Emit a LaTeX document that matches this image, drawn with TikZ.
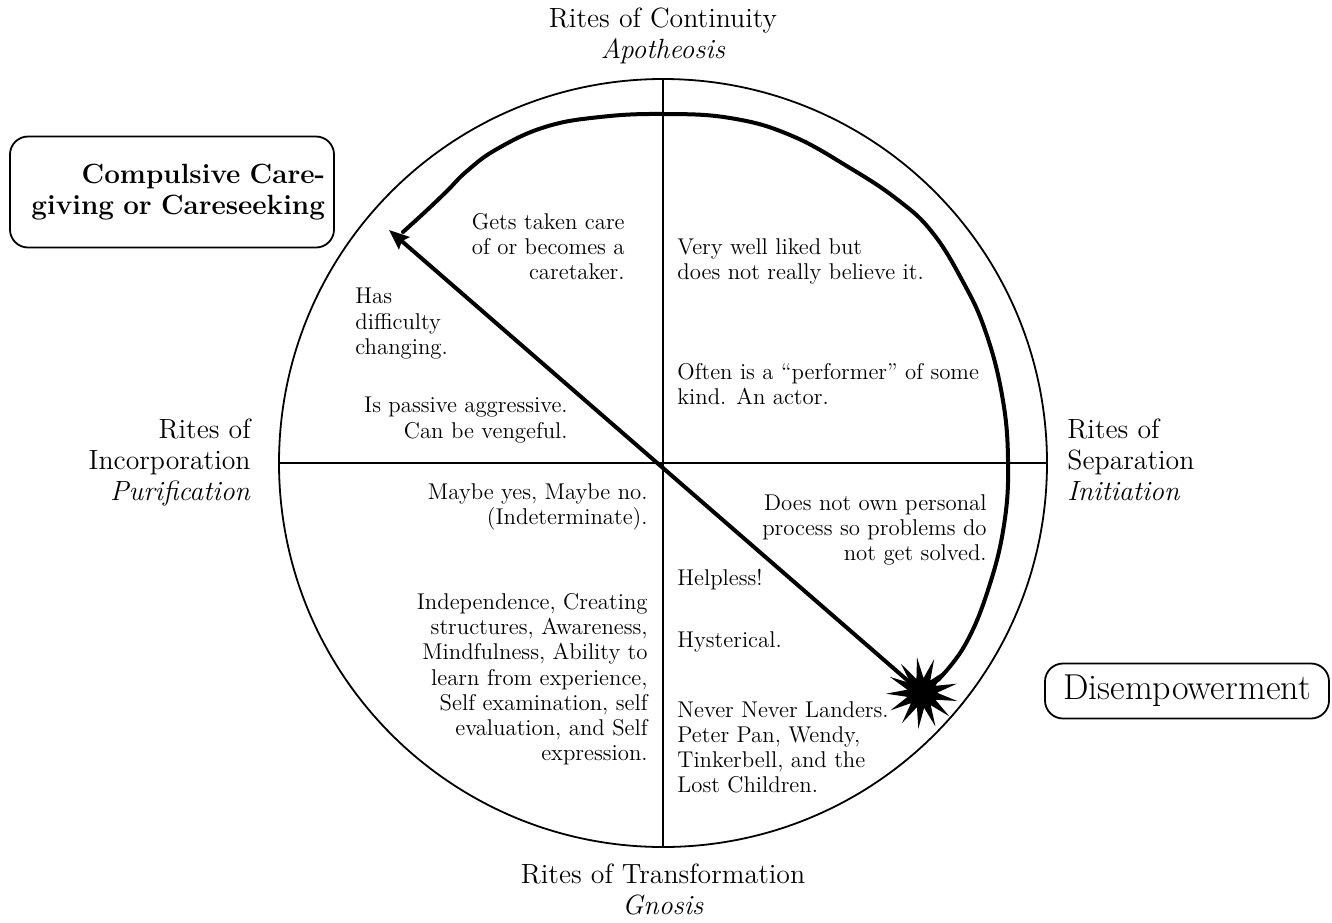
\documentclass[tikz,border=0pt]{standalone}
\usepackage{tikz}
\usetikzlibrary{arrows.meta,shapes.geometric}
\newcommand{\bodysize}{\fontsize{11.4}{12.6}\selectfont}
\newcommand{\ritesize}{\fontsize{13.9}{15.4}\selectfont}
\tikzset{
  rim/.style={line width=0.9pt},
  cross/.style={line width=0.8pt},
  cycleline/.style={line width=2pt, line cap=round, line join=round},
  note/.style={font=\bodysize, inner sep=0pt},
  rite/.style={font=\ritesize, inner sep=0pt},
  tagbox/.style={draw, line width=0.9pt, rounded corners=9pt},
}

\begin{document}
\begin{tikzpicture}[x=0.5pt,y=-0.5pt]
\useasboundingbox (0,0) rectangle (1332,922);
\coordinate (hub) at (663,463);
\draw[rim] (hub) circle[radius=384];
\draw[cross] (hub) ++(-384,0) -- ++(768,0);
\draw[cross] (hub) ++(0,-384) -- ++(0,768);

\node[rite, anchor=north, align=center] (continuity) at (663,8) {Rites of Continuity\\\textit{Apotheosis}};
\node[rite, anchor=north, align=center] (transformation) at (663,864) {Rites of Transformation\\\textit{Gnosis}};
\node[rite, anchor=north east, align=right] (incorporation) at (251,419) {Rites of\\Incorporation\\\textit{Purification}};
\node[rite, anchor=north west, align=left] (separation) at (1067,419) {Rites of\\Separation\\\textit{Initiation}};

\node[tagbox, font=\ritesize\bfseries, align=right, text width=153pt, inner xsep=4.5pt, minimum height=55.5pt] (caregiving) at (172,192) {Compulsive Care-\\giving or Careseeking};
\node[tagbox, font=\fontsize{18}{20}\selectfont, minimum width=142pt, minimum height=27.5pt] (disempower) at (1187,691) {Disempowerment};

\node[note, anchor=north east, align=right] (care) at (625,213) {Gets taken care\\of or becomes a\\caretaker.};
\node[note, anchor=north west, align=left] (changing) at (355,288) {Has\\difficulty\\changing.};
\node[note, anchor=north east, align=right] (passive) at (568,397) {Is passive aggressive.\\Can be vengeful.};
\node[note, anchor=north west, align=left] (liked) at (677,238) {Very well liked but\\does not really believe it.};
\node[note, anchor=north west, align=left] (performer) at (677,363) {Often is a ``performer'' of some\\kind. An actor.};
\node[note, anchor=north east, align=right] (process) at (987,494) {Does not own personal\\process so problems do\\not get solved.};
\node[note, anchor=north west] (helpless) at (677,569) {Helpless!};
\node[note, anchor=north west] (hysterical) at (677,631) {Hysterical.};
\node[note, anchor=north west, align=left] (landers) at (677,701) {Never Never Landers.\\Peter Pan, Wendy,\\Tinkerbell, and the\\Lost Children.};
\node[note, anchor=north east, align=right] (maybe) at (648,483) {Maybe yes, Maybe no.\\(Indeterminate).};
\node[note, anchor=north east, align=right] (independence) at (648,593) {Independence, Creating\\structures, Awareness,\\Mindfulness, Ability to\\learn from experience,\\Self examination, self\\evaluation, and Self\\expression.};

\coordinate (tip) at (389,230);
\draw[cycleline] plot[smooth, tension=0.7] coordinates {(938,680) (965,645) (988,590) (1004,525) (1008,460) (1002,395) (985,330) (962,280) (932,232) (898,200) (850,168) (790,135) (730,118) (663,114) (600,117) (545,127) (497,149) (467,171) (447,191) (425,212) (403,232)};
\node[star, star points=13, star point ratio=2.4, fill=black, inner sep=0pt, minimum size=36pt, rotate=8] (burst) at (922,693) {};
\draw[cycleline, -{Stealth[length=10pt, width=8pt, inset=1.5pt]}] (burst.center) -- (tip);
\end{tikzpicture}
\end{document}
